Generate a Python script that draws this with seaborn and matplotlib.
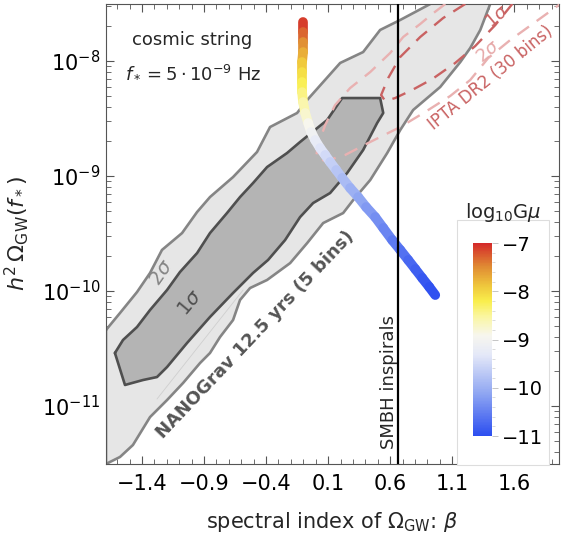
import numpy as np
import matplotlib
matplotlib.use("Agg")
import matplotlib.pyplot as plt
import seaborn as sns
from matplotlib.collections import LineCollection
from matplotlib.colors import LinearSegmentedColormap, Normalize
from matplotlib.cm import ScalarMappable
from matplotlib.patches import Rectangle
import matplotlib.ticker as mticker

# ---------------- data (beta, log10 h^2 Omega_GW) ----------------
# NANOGrav 12.5 yrs 2 sigma region: upper edge then lower edge
ng2_up_x = [-1.69, -1.577, -1.440, -1.335, -1.239, -1.077, -0.956, -0.852, -0.666, -0.473,
            -0.368, -0.150, -0.069, 0.197, 0.382, 0.519, 0.681, 0.923, 0.963]
ng2_up_y = [-10.339, -10.191, -10.009, -9.843, -9.643, -9.496, -9.313, -9.183, -9.009, -8.791,
            -8.574, -8.452, -8.339, -8.017, -7.922, -7.730, -7.643, -7.504, -7.426]
ng2_lo_x = [1.447, 1.406, 1.326, 1.245, 1.165, 1.003, 0.785, 0.681, 0.576, 0.439, 0.302, 0.221,
            0.060, -0.069, -0.206, -0.392, -0.529, -0.610, -0.666, -0.771, -0.852, -0.932,
            -1.069, -1.198, -1.335, -1.473, -1.577, -1.69]
ng2_lo_y = [-7.426, -7.504, -7.730, -7.887, -8.009, -8.226, -8.426, -8.600, -8.800, -9.035,
            -9.209, -9.322, -9.409, -9.583, -9.757, -9.904, -9.974, -10.078, -10.252, -10.400,
            -10.539, -10.626, -10.800, -10.948, -11.096, -11.339, -11.443, -11.504]

# NANOGrav 12.5 yrs 1 sigma region (closed)
ng1_x = [-1.618, -1.553, -1.440, -1.335, -1.198, -1.094, -0.956, -0.852, -0.715, -0.610,
         -0.505, -0.392, -0.231, -0.126, 0.092, 0.213, 0.519, 0.544, 0.495, 0.382, 0.253,
         0.116, -0.021, -0.126, -0.247, -0.384, -0.505, -0.666, -0.852, -1.037, -1.198,
         -1.279, -1.392, -1.537]
ng1_y = [-10.539, -10.426, -10.313, -10.165, -9.991, -9.835, -9.670, -9.496, -9.322, -9.183,
         -9.061, -8.922, -8.800, -8.704, -8.513, -8.322, -8.322, -8.452, -8.539, -8.774,
         -8.974, -9.148, -9.235, -9.357, -9.557, -9.730, -9.843, -10.017, -10.226, -10.452,
         -10.661, -10.748, -10.774, -10.817]

# faint seam inside the 2 sigma region
seam_x = [-1.279, -0.585]
seam_y = [-10.939, -9.991]

# IPTA DR2 (30 bins) contours
ipta2_x = [1.044, 0.939, 0.842, 0.705, 0.600, 0.439, 0.277, 0.156, 0.076, 0.019, 0.003, 0.076,
           0.237, 0.439, 0.681, 0.882, 1.084, 1.245, 1.390, 1.568, 1.769, 1.971]
ipta2_y = [-7.504, -7.591, -7.678, -7.791, -7.930, -8.096, -8.235, -8.383, -8.557, -8.730,
           -8.835, -8.870, -8.817, -8.704, -8.574, -8.443, -8.304, -8.165, -7.974, -7.817,
           -7.661, -7.504]
ipta1_x = [1.205, 1.027, 0.842, 0.681, 0.584, 0.527, 0.560, 0.640, 0.777, 0.939, 1.124,
           1.285, 1.447, 1.584]
ipta1_y = [-7.504, -7.626, -7.791, -7.965, -8.148, -8.296, -8.348, -8.322, -8.252, -8.157,
           -8.017, -7.870, -7.687, -7.504]

# cosmic string prediction, colored by log10 G mu
cs_x = [-0.102, -0.102, -0.102, -0.102, -0.110, -0.110, -0.110, -0.110, -0.102, -0.085,
        -0.061, -0.037, -0.005, 0.035, 0.076, 0.116, 0.165, 0.213, 0.277, 0.342, 0.406,
        0.479, 0.544, 0.616, 0.681, 0.745, 0.802, 0.858, 0.915, 0.963]
cs_y = [-7.661, -7.748, -7.835, -7.922, -8.009, -8.096, -8.183, -8.270, -8.357, -8.452,
        -8.539, -8.617, -8.687, -8.757, -8.817, -8.878, -8.948, -9.017, -9.104, -9.183,
        -9.270, -9.357, -9.452, -9.557, -9.643, -9.730, -9.809, -9.887, -9.965, -10.035]
cs_logGmu = [-7.00, -7.20, -7.42, -7.62, -7.82, -8.00, -8.17, -8.33, -8.50, -8.68,
             -8.85, -9.00, -9.15, -9.30, -9.43, -9.55, -9.68, -9.80, -9.93, -10.05,
             -10.17, -10.30, -10.40, -10.50, -10.60, -10.70, -10.78, -10.86, -10.93, -11.00]

SMBH_BETA = 2.0 / 3.0
x_ticks = [-1.4, -0.9, -0.4, 0.1, 0.6, 1.1, 1.6]
cb_ticks = [-7, -8, -9, -10, -11]

# ---------------- style ----------------
sns.set_style("ticks")
plt.rcParams['font.family'] = ['DejaVu Sans']
plt.rcParams['mathtext.fontset'] = 'dejavusans'

temp_cmap = LinearSegmentedColormap.from_list("temperature", [
    (0.00, "#2c4ef0"), (0.22, "#8fa6f2"), (0.42, "#e4e8f8"), (0.52, "#f7f6ee"),
    (0.62, "#faf6a0"), (0.70, "#f9ee4c"), (0.78, "#efc63c"), (0.88, "#e08a33"),
    (1.00, "#d42a2a")])
norm = Normalize(-11, -7)

fig = plt.figure(figsize=(5.62, 5.44), dpi=100)
ax = fig.add_axes([0.1886, 0.1471, 0.806, 0.8456])
ax.set_yscale('log')

def P(a):
    return 10.0 ** np.asarray(a)

# NANOGrav 2 sigma
x2 = ng2_up_x + ng2_lo_x + ng2_up_x[:1]
y2 = ng2_up_y + ng2_lo_y + ng2_up_y[:1]
ax.fill(x2, P(y2), facecolor='#e6e6e6', edgecolor='none', zorder=1)
sns.lineplot(x=x2, y=P(y2), sort=False, estimator=None, color='#858585', lw=1.9, ax=ax, zorder=2)
sns.lineplot(x=seam_x, y=P(seam_y), sort=False, estimator=None, color='#cfcfcf', lw=0.6, ax=ax, zorder=2)

# NANOGrav 1 sigma
x1 = ng1_x + ng1_x[:1]
y1 = ng1_y + ng1_y[:1]
ax.fill(x1, P(y1), facecolor='#b4b4b4', edgecolor='none', zorder=3)
sns.lineplot(x=x1, y=P(y1), sort=False, estimator=None, color='#4f4f4f', lw=1.9, ax=ax, zorder=4)

# IPTA contours
sns.lineplot(x=ipta2_x, y=P(ipta2_y), sort=False, estimator=None, color='#e9b1b1', lw=1.7,
             linestyle=(0, (6, 4)), ax=ax, zorder=4)
sns.lineplot(x=ipta1_x, y=P(ipta1_y), sort=False, estimator=None, color='#c96262', lw=1.7,
             linestyle=(0, (6, 4)), ax=ax, zorder=4)

# cosmic string curve
pts = np.column_stack([cs_x, P(cs_y)])
segs = np.stack([pts[:-1], pts[1:]], axis=1)
vals = np.asarray(cs_logGmu)
lc = LineCollection(segs, cmap=temp_cmap, norm=norm, linewidths=7, capstyle='round',
                    joinstyle='round', zorder=5)
lc.set_array(0.5 * (vals[:-1] + vals[1:]))
ax.add_collection(lc)

# SMBH line
ax.axvline(SMBH_BETA, color='black', lw=1.6, zorder=6)

ax.set_xlim(-1.69, 1.96)
ax.set_ylim(10 ** -11.504, 10 ** -7.504)

# ticks
ax.xaxis.set_major_locator(mticker.FixedLocator(x_ticks))
ax.xaxis.set_minor_locator(mticker.FixedLocator(np.round(np.arange(-1.6, 1.95, 0.1), 2)))
ax.xaxis.set_major_formatter(mticker.FixedFormatter(['\u2212' + f'{abs(t):.1f}' if t < 0 else f'{t:.1f}' for t in x_ticks]))
ax.yaxis.set_major_locator(mticker.LogLocator(base=10, numticks=10))
ax.yaxis.set_minor_locator(mticker.LogLocator(base=10, subs=np.arange(2, 10), numticks=20))
ax.yaxis.set_minor_formatter(mticker.NullFormatter())
ax.tick_params(which='both', direction='in', top=True, right=True, colors='#555555',
               labelcolor='black')
ax.tick_params(which='major', length=6, width=0.8, labelsize=15)
ax.tick_params(which='minor', length=3.5, width=0.6)
ax.tick_params(axis='x', which='major', pad=7)
ax.tick_params(axis='y', which='major', pad=4)
for s in ax.spines.values():
    s.set_color('#555555')
    s.set_linewidth(0.8)

ax.set_xlabel(r'spectral index of $\Omega_{\mathrm{GW}}$: $\beta$', fontsize=15, labelpad=12)
ax.set_ylabel(r'$h^2\,\Omega_{\mathrm{GW}}(f_*)$', fontsize=16, labelpad=8)

# annotations
ax.text(0.190, 0.922, 'cosmic string', transform=ax.transAxes, ha='center', va='center', fontsize=13)
ax.text(0.192, 0.850, r'$f_* = 5\cdot 10^{-9}$ Hz', transform=ax.transAxes, ha='center',
        va='center', fontsize=13)
ax.text(0.124, 0.417, r'$2\sigma$', transform=ax.transAxes, ha='center', va='center',
        fontsize=14, rotation=55, color='#858585', fontweight='bold', zorder=7)
ax.text(0.185, 0.350, r'$1\sigma$', transform=ax.transAxes, ha='center', va='center',
        fontsize=14, rotation=50, color='#4f4f4f', zorder=7)
ax.text(0.329, 0.280, 'NANOGrav 12.5 yrs (5 bins)', transform=ax.transAxes, ha='center',
        va='center', fontsize=13, rotation=46.5, color='#555555', fontweight='bold', zorder=7)
ax.text(0.850, 0.839, 'IPTA DR2 (30 bins)', transform=ax.transAxes, ha='center', va='center',
        fontsize=12, rotation=39, color='#c96262', zorder=7)
ax.text(0.863, 0.972, r'$1\sigma$', transform=ax.transAxes, ha='center', va='center',
        fontsize=13, rotation=40, color='#c96262', zorder=7)
ax.text(0.843, 0.896, r'$2\sigma$', transform=ax.transAxes, ha='center', va='center',
        fontsize=13, rotation=40, color='#e6a8a8', zorder=7)
ax.text(0.625, 0.178, 'SMBH inspirals', transform=ax.transAxes, ha='center', va='center',
        fontsize=13, rotation=90, zorder=7)

# colorbar legend box
ax.add_patch(Rectangle((0.775, -0.002), 0.203, 0.532, transform=ax.transAxes,
                       facecolor='white', edgecolor='#dddddd', lw=0.8, zorder=6.5, clip_on=False))
cax = fig.add_axes([0.8416, 0.1985, 0.0338, 0.3548])
cb = fig.colorbar(ScalarMappable(norm=norm, cmap=temp_cmap), cax=cax, ticks=cb_ticks)
cb.outline.set_visible(False)
cax.yaxis.set_minor_locator(mticker.MultipleLocator(0.2))
cax.tick_params(which='major', length=4, width=0.6, colors='#bbbbbb', labelcolor='black',
                labelsize=14, pad=3)
cax.tick_params(which='minor', length=2.5, width=0.5, colors='#cccccc')
fig.text(0.895, 0.610, r'log$_{10}$G$\mu$', ha='center', va='center', fontsize=14)

fig.savefig('out.png', dpi=100)
